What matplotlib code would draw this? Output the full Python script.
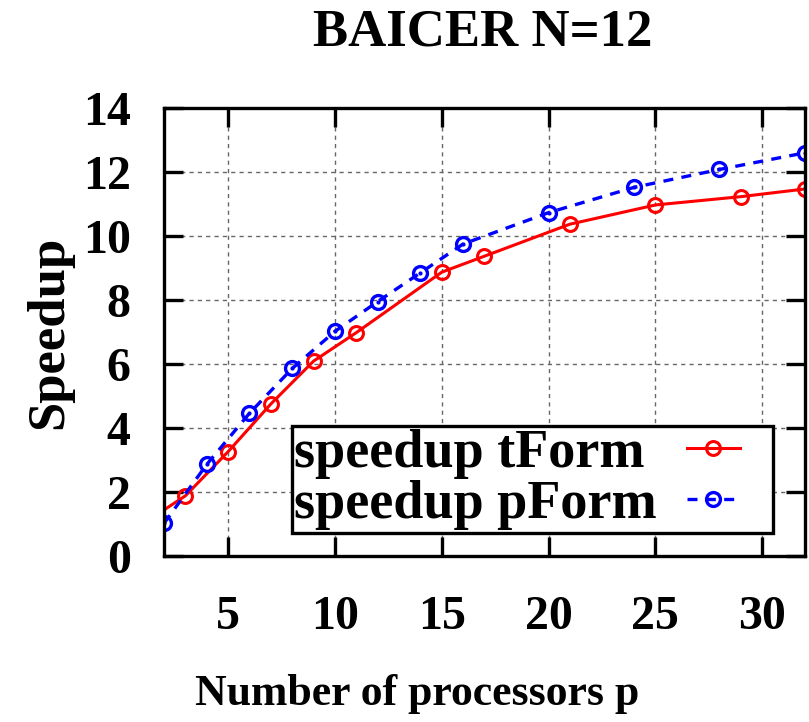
import matplotlib
matplotlib.use("Agg")
import matplotlib.pyplot as plt
from matplotlib.legend_handler import HandlerLine2D

procs_t = [1, 3, 5, 7, 9, 11, 15, 17, 21, 25, 29, 32]
speedup_t = [1.0, 1.88, 3.26, 4.75, 6.09, 6.98, 8.87, 9.37, 10.37, 10.97, 11.23, 11.47]

procs_p = [2, 4, 6, 8, 10, 12, 14, 16, 20, 24, 28, 32]
speedup_p = [1.02, 2.86, 4.46, 5.86, 7.02, 7.95, 8.85, 9.75, 10.73, 11.52, 12.08, 12.6]

x_ticks = [5, 10, 15, 20, 25, 30]
y_ticks = [0, 2, 4, 6, 8, 10, 12, 14]


# legend sample drawn in the left part of its box, leaving room on the right
class LeftLine(HandlerLine2D):
    def create_artists(self, legend, orig_handle, xdescent, ydescent,
                       width, height, fontsize, trans):
        return super().create_artists(legend, orig_handle, xdescent, ydescent,
                                      width * 0.64, height, fontsize, trans)


plt.rcParams['font.family'] = 'Liberation Serif'
plt.rcParams['font.weight'] = 'bold'

fig = plt.figure(figsize=(8.09, 7.22), dpi=100)
ax = fig.add_axes([0.2027, 0.2299, 0.7923, 0.6205])

# red solid line, open circles
ax.plot(procs_t, speedup_t, color='red', lw=2.2, marker='o', ms=10,
        mfc='none', mec='red', mew=2.2, label='speedup tForm')
# blue dashed line, circles with a dot in the middle
ax.plot(procs_p, speedup_p, color='blue', lw=2.4, ls=(0, (3, 2.5)), marker='o', ms=10,
        mfc='none', mec='blue', mew=2.4, label='speedup pForm')
ax.plot(procs_p, speedup_p, ls='none', marker='.', ms=4, color='blue')

ax.set_xlim(2, 32)
ax.set_ylim(0, 14)
ax.set_xticks(x_ticks)
ax.set_yticks(y_ticks)

ax.grid(True, color='0.4', ls=(0, (3, 3)), lw=1)
ax.set_axisbelow(True)
for s in ax.spines.values():
    s.set_linewidth(2.4)
ax.tick_params(direction='in', top=True, right=True, length=14, width=2.4,
               labelsize=34.5)
ax.tick_params(axis='x', pad=28)
ax.tick_params(axis='y', pad=24)

# legend: text first, sample on the right
leg = ax.legend(loc='lower right', bbox_to_anchor=(0.95, 0.051), borderaxespad=0,
                markerfirst=False, fontsize=39, handlelength=1.54,
                handletextpad=0.55, borderpad=0.05, labelspacing=0.03,
                fancybox=False, framealpha=1, edgecolor='black',
                handler_map={matplotlib.lines.Line2D: LeftLine()})
leg.get_frame().set_linewidth(2.4)

# left-align the labels while keeping the samples lined up on the right
fig.canvas.draw()
r = fig.canvas.get_renderer()
col = leg._legend_handle_box.get_children()[0]
rows = col.get_children()
w = max(row.get_bbox(r).width for row in rows)
for row in rows:
    row.width = w
    row.mode = 'expand'
col.align = 'left'

fig.text(483 / 809, 1 - 45 / 722, 'BAICER N=12', ha='center', va='baseline',
         fontsize=38, fontweight='bold')
fig.text(417 / 809, 1 - 705 / 722, 'Number of processors p', ha='center',
         va='baseline', fontsize=31.5, fontweight='bold')
fig.text(49 / 809, 1 - 332 / 722, 'Speedup', ha='center', va='center',
         rotation=90, fontsize=38, fontweight='bold')

fig.savefig('out.png', dpi=100)
